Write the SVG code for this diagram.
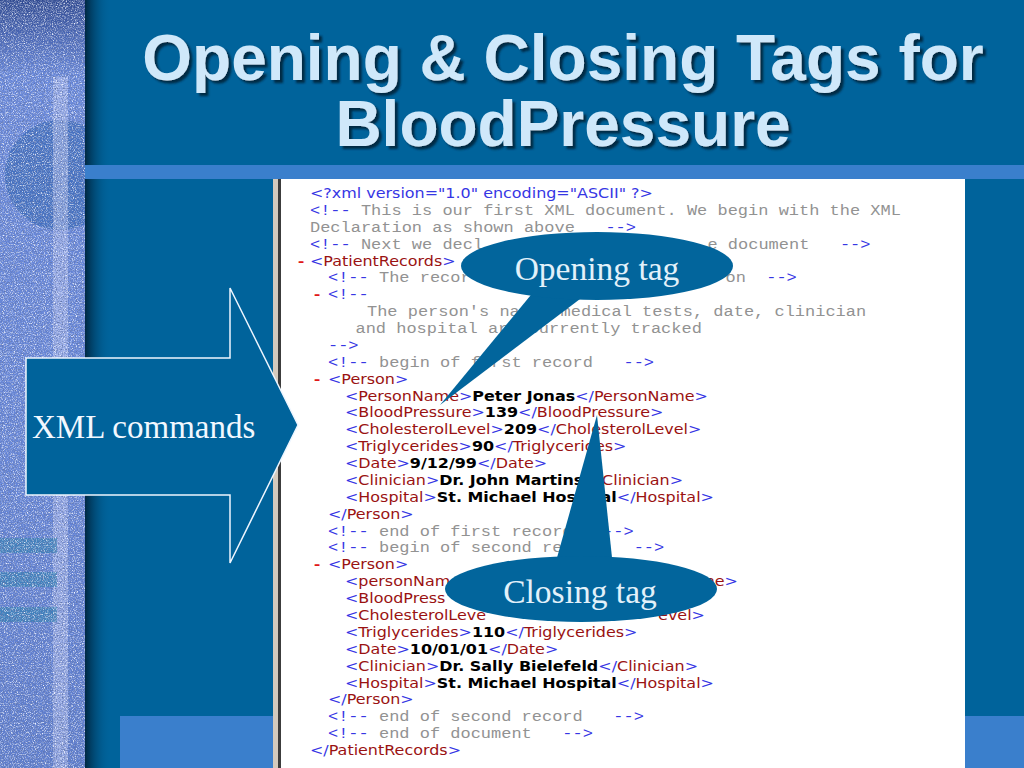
<svg xmlns="http://www.w3.org/2000/svg" width="1024" height="768" viewBox="0 0 1024 768">
<defs>
<style>
.title{font-family:"Liberation Sans",Arial,sans-serif;font-weight:bold;font-size:64px;fill:#cfe8fa}
.serif{font-family:"Liberation Serif","Times New Roman",serif;font-size:33.5px;fill:#e2f1fa}
.code text{white-space:pre}
.m{font-family:"Liberation Mono","Courier New",monospace;font-size:14.9px;fill:#929292}
.s{font-family:"DejaVu Sans",Verdana,sans-serif;font-size:14px;fill:#3636e4}
.bl{fill:#3636e4}
.r{fill:#9a1212}
.k{fill:#000000;font-weight:bold}
.d{fill:#e01818;font-family:"Liberation Mono","Courier New",monospace;font-size:14.9px;font-weight:bold}
.callout{fill:#02659c}
.band{fill:#3a7fcc}
</style>
<linearGradient id="stripGrad" x1="0" y1="0" x2="0" y2="1">
<stop offset="0" stop-color="#2e4890"/>
<stop offset="0.05" stop-color="#4a68b8"/>
<stop offset="0.1" stop-color="#6a8ade"/>
<stop offset="0.6" stop-color="#6787da"/>
<stop offset="1" stop-color="#5d7dcf"/>
</linearGradient>
<linearGradient id="shadeGrad" x1="0" y1="0" x2="1" y2="0">
<stop offset="0" stop-color="#00243d" stop-opacity="0.95"/>
<stop offset="1" stop-color="#00639b" stop-opacity="0"/>
</linearGradient>
<clipPath id="stripClip"><rect x="0" y="0" width="85" height="768"/></clipPath>
<filter id="grainW" filterUnits="userSpaceOnUse" x="0" y="0" width="85" height="768">
<feTurbulence type="fractalNoise" baseFrequency="0.9" numOctaves="2" seed="7"/>
<feColorMatrix type="matrix" values="0 0 0 0 0.92  0 0 0 0 0.94  0 0 0 0 1  2.6 0 0 0 -1.2"/>
</filter>
<filter id="grainD" filterUnits="userSpaceOnUse" x="0" y="0" width="85" height="768">
<feTurbulence type="fractalNoise" baseFrequency="0.85" numOctaves="2" seed="21"/>
<feColorMatrix type="matrix" values="0 0 0 0 0.12  0 0 0 0 0.18  0 0 0 0 0.42  0 2.6 0 0 -1.15"/>
</filter>
<filter id="tshadow" x="-5%" y="-10%" width="110%" height="130%">
<feDropShadow dx="3" dy="3" stdDeviation="1.2" flood-color="#00223a" flood-opacity="0.9"/>
</filter>
</defs>

<rect id="background" x="0" y="0" width="1024" height="768" fill="#00639b"/>

<g id="left-strip">
<rect x="0" y="0" width="85" height="768" fill="url(#stripGrad)"/>
<g clip-path="url(#stripClip)">
<circle cx="60" cy="175" r="55" fill="#2f64b6" opacity="0.65"/>
</g>
<rect x="53" y="77" width="15" height="691" fill="#c8d0f8" opacity="0.5"/>
<rect x="0" y="538" width="57" height="15" fill="#2f80b4" opacity="0.7"/>
<rect x="0" y="572" width="57" height="15" fill="#2f80b4" opacity="0.7"/>
<rect x="0" y="607" width="57" height="15" fill="#2f80b4" opacity="0.7"/>
<rect x="0" y="0" width="85" height="768" filter="url(#grainW)"/>
<rect x="0" y="0" width="85" height="768" filter="url(#grainD)"/>
</g>
<rect x="85" y="0" width="26" height="768" fill="url(#shadeGrad)"/>
<rect class="band" x="85" y="165" width="939" height="14"/>
<rect class="band" x="120" y="716" width="904" height="52"/>

<g id="title" filter="url(#tshadow)">
<text class="title" x="563" y="80" text-anchor="middle">Opening &amp; Closing Tags for</text>
<text class="title" x="563" y="146" text-anchor="middle">BloodPressure</text>
</g>

<g id="document">
<rect x="273" y="179" width="5" height="589" fill="#d4cabd"/>
<rect x="278" y="179" width="3" height="589" fill="#3c3c3c"/>
<rect x="281" y="179" width="684" height="589" fill="#ffffff"/>
<g class="code" transform="translate(280 0) scale(1.14 1)">
<text class="s" x="26.3" y="198">&lt;?xml version="1.0" encoding="ASCII" ?&gt;</text>
<text class="m" x="26.3" y="214.88"><tspan class="bl">&lt;!--</tspan> This is our first XML document. We begin with the XML</text>
<text class="m" x="26.3" y="231.76">Declaration as shown above   <tspan class="bl">--&gt;</tspan></text>
<text class="m" x="26.3" y="248.64"><tspan class="bl">&lt;!--</tspan> Next we decl</text>
<text class="m" x="374.96" y="248.64">e document   <tspan class="bl">--&gt;</tspan></text>
<text class="d" x="14" y="265.52">-</text>
<text class="s" x="26.3" y="265.52">&lt;<tspan class="r">PatientRecords</tspan>&gt;</text>
<text class="m" x="42.1" y="282.4"><tspan class="bl">&lt;!--</tspan> The recor</text>
<text class="m" x="390.76" y="282.4">on  <tspan class="bl">--&gt;</tspan></text>
<text class="d" x="28.1" y="299.28">-</text>
<text class="m" x="42.1" y="299.28"><tspan class="bl">&lt;!--</tspan></text>
<text class="m" x="76.3" y="316.16">The person's name, medical tests, date, clinician</text>
<text class="m" x="66.2" y="333.04">and hospital are currently tracked</text>
<text class="m" x="42.1" y="349.92"><tspan class="bl">--&gt;</tspan></text>
<text class="m" x="42.1" y="366.8"><tspan class="bl">&lt;!--</tspan> begin of first record   <tspan class="bl">--&gt;</tspan></text>
<text class="d" x="28.1" y="383.68">-</text>
<text class="s" x="42.1" y="383.68">&lt;<tspan class="r">Person</tspan>&gt;</text>
<text class="s" x="57" y="400.56">&lt;<tspan class="r">PersonName</tspan>&gt;<tspan class="k">Peter Jonas</tspan>&lt;/<tspan class="r">PersonName</tspan>&gt;</text>
<text class="s" x="57" y="417.44">&lt;<tspan class="r">BloodPressure</tspan>&gt;<tspan class="k">139</tspan>&lt;/<tspan class="r">BloodPressure</tspan>&gt;</text>
<text class="s" x="57" y="434.32">&lt;<tspan class="r">CholesterolLevel</tspan>&gt;<tspan class="k">209</tspan>&lt;/<tspan class="r">CholesterolLevel</tspan>&gt;</text>
<text class="s" x="57" y="451.2">&lt;<tspan class="r">Triglycerides</tspan>&gt;<tspan class="k">90</tspan>&lt;/<tspan class="r">Triglycerides</tspan>&gt;</text>
<text class="s" x="57" y="468.08">&lt;<tspan class="r">Date</tspan>&gt;<tspan class="k">9/12/99</tspan>&lt;/<tspan class="r">Date</tspan>&gt;</text>
<text class="s" x="57" y="484.96">&lt;<tspan class="r">Clinician</tspan>&gt;<tspan class="k">Dr. John Martins</tspan>&lt;/<tspan class="r">Clinician</tspan>&gt;</text>
<text class="s" x="57" y="501.84">&lt;<tspan class="r">Hospital</tspan>&gt;<tspan class="k">St. Michael Hospital</tspan>&lt;/<tspan class="r">Hospital</tspan>&gt;</text>
<text class="s" x="42.1" y="518.72">&lt;/<tspan class="r">Person</tspan>&gt;</text>
<text class="m" x="42.1" y="535.6"><tspan class="bl">&lt;!--</tspan> end of first record   <tspan class="bl">--&gt;</tspan></text>
<text class="m" x="42.1" y="552.48"><tspan class="bl">&lt;!--</tspan> begin of second record   <tspan class="bl">--&gt;</tspan></text>
<text class="d" x="28.1" y="569.36">-</text>
<text class="s" x="42.1" y="569.36">&lt;<tspan class="r">Person</tspan>&gt;</text>
<text class="s" x="57" y="586.24">&lt;<tspan class="r">personNam</tspan></text>
<text class="s" x="401.75" y="586.24" text-anchor="end"><tspan class="r">ne</tspan>&gt;</text>
<text class="s" x="57" y="603.12">&lt;<tspan class="r">BloodPress</tspan></text>
<text class="s" x="57" y="620">&lt;<tspan class="r">CholesterolLeve</tspan></text>
<text class="s" x="372.8" y="620" text-anchor="end"><tspan class="r">evel</tspan>&gt;</text>
<text class="s" x="57" y="636.88">&lt;<tspan class="r">Triglycerides</tspan>&gt;<tspan class="k">110</tspan>&lt;/<tspan class="r">Triglycerides</tspan>&gt;</text>
<text class="s" x="57" y="653.76">&lt;<tspan class="r">Date</tspan>&gt;<tspan class="k">10/01/01</tspan>&lt;/<tspan class="r">Date</tspan>&gt;</text>
<text class="s" x="57" y="670.64">&lt;<tspan class="r">Clinician</tspan>&gt;<tspan class="k">Dr. Sally Bielefeld</tspan>&lt;/<tspan class="r">Clinician</tspan>&gt;</text>
<text class="s" x="57" y="687.52">&lt;<tspan class="r">Hospital</tspan>&gt;<tspan class="k">St. Michael Hospital</tspan>&lt;/<tspan class="r">Hospital</tspan>&gt;</text>
<text class="s" x="42.1" y="704.4">&lt;/<tspan class="r">Person</tspan>&gt;</text>
<text class="m" x="42.1" y="721.28"><tspan class="bl">&lt;!--</tspan> end of second record   <tspan class="bl">--&gt;</tspan></text>
<text class="m" x="42.1" y="738.16"><tspan class="bl">&lt;!--</tspan> end of document   <tspan class="bl">--&gt;</tspan></text>
<text class="s" x="26.3" y="755.04">&lt;/<tspan class="r">PatientRecords</tspan>&gt;</text>
</g>
</g>

<g id="node-xml-commands">
<polygon points="26,358 230,358 230,288 298,425 230,563 230,495 26,495" fill="#00639b" stroke="#eef6ff" stroke-width="1.5" stroke-linejoin="miter"/>
<text class="serif" x="32" y="438" style="font-size:33px;fill:#f2f8ff">XML commands</text>
</g>

<g id="connectors">
<polygon class="callout" points="535,290 584,296 440,405"/>
<polygon class="callout" points="553,572 613,567 597,415"/>
</g>

<g id="node-opening-tag">
<ellipse class="callout" cx="597" cy="266" rx="136" ry="34"/>
<text class="serif" x="597" y="280" text-anchor="middle">Opening tag</text>
</g>

<g id="node-closing-tag">
<ellipse class="callout" cx="581" cy="589" rx="136" ry="33"/>
<text class="serif" x="580" y="603" text-anchor="middle">Closing tag</text>
</g>
</svg>
